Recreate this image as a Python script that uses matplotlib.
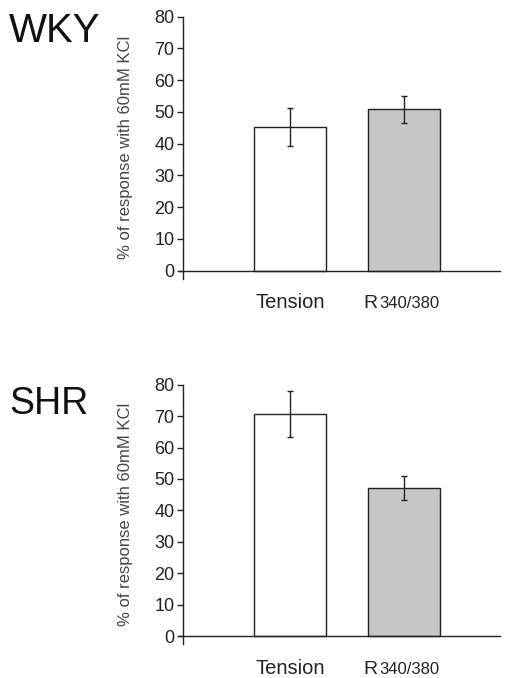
import matplotlib
matplotlib.use("Agg")
import matplotlib.pyplot as plt
import numpy as np

plt.rcParams["font.family"] = ["Liberation Sans", "DejaVu Sans"]

groups = ["WKY", "SHR"]
categories = ["Tension", "R", "340/380"]
wky_means = [45.3, 50.8]
wky_err = [5.9, 4.3]
shr_means = [70.7, 47.1]
shr_err = [7.4, 3.9]
y_ticks = [0, 10, 20, 30, 40, 50, 60, 70, 80]
y_label = "% of response with 60mM KCl"

W, H = 508, 678
fig = plt.figure(figsize=(W / 100, H / 100), dpi=100)

# rect in figure fraction, title centre in pixels, title size
panels = [
    (groups[0], wky_means, wky_err, [0.3608, 0.5891, 0.6234, 0.3863], (9, 31), 29),
    (groups[1], shr_means, shr_err, [0.3608, 0.0503, 0.6234, 0.3823], (9, 404), 27),
]

x_pos = np.array([0.0, 1.0])
ink = "#222222"

for name, means, errs, rect, title_xy, title_size in panels:
    ax = fig.add_axes(rect)
    ax.bar(x_pos, means, width=0.632, color=["white", "#c6c6c6"],
           edgecolor=ink, linewidth=1.0, zorder=2)
    ax.errorbar(x_pos, means, yerr=errs, fmt="none", ecolor=ink,
                elinewidth=1.0, capsize=2.5, capthick=1.0, zorder=3)
    ax.set_xlim(-0.936, 1.842)
    ax.set_ylim(-2.5, 80)
    ax.set_yticks(y_ticks)
    ax.tick_params(axis="y", length=4.5, width=1.0, color=ink, pad=2,
                   labelsize=13, labelcolor=ink)
    ax.set_xticks([])
    for side in ["top", "right", "bottom"]:
        ax.spines[side].set_visible(False)
    ax.spines["left"].set_color(ink)
    ax.spines["left"].set_linewidth(1.0)
    ax.axhline(0, xmin=-0.012, xmax=1.0, color=ink, linewidth=1.0,
               clip_on=False, zorder=4)

    ax.set_ylabel(y_label, fontsize=12, color="#444444")
    ax.yaxis.set_label_coords(-0.16, 0.5)

    ax.annotate(categories[0], xy=(x_pos[0], 0), xycoords="data",
                xytext=(0, -27), textcoords="offset points",
                ha="center", va="baseline", fontsize=14.5, color=ink)
    ax.annotate(categories[1], xy=(x_pos[1], 0), xycoords="data",
                xytext=(-19.2, -27), textcoords="offset points",
                ha="right", va="baseline", fontsize=14, color=ink)
    ax.annotate(categories[2], xy=(x_pos[1], 0), xycoords="data",
                xytext=(-18.0, -27), textcoords="offset points",
                ha="left", va="baseline", fontsize=12, color=ink)

    fig.text(title_xy[0] / W, 1 - title_xy[1] / H, name, ha="left",
             va="center", fontsize=title_size, color="#111111")

fig.savefig("out.png", dpi=100)
